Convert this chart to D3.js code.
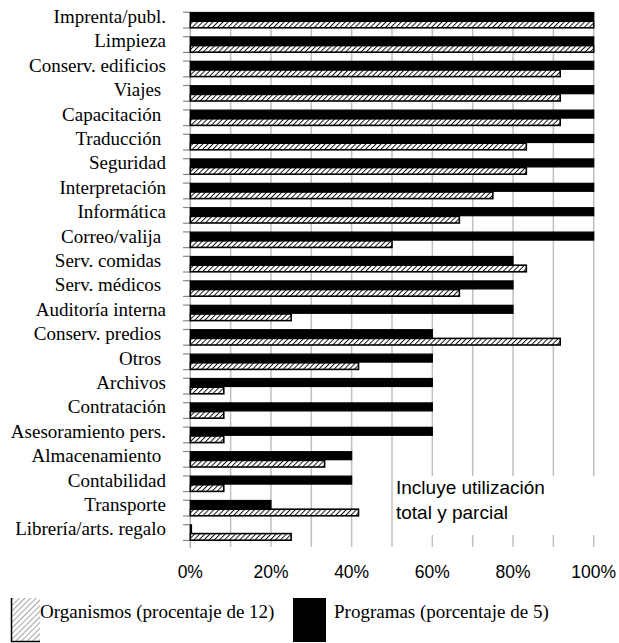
<!DOCTYPE html>
<html>
<head>
<meta charset="utf-8">
<script src="https://cdn.jsdelivr.net/npm/d3@7"></script>
<style>
html,body{margin:0;padding:0;background:#fff;}
svg{display:block;}
</style>
</head>
<body>
<svg id="chart" width="619" height="643"></svg>
<script>
const categories = ["Imprenta/publ.","Limpieza","Conserv. edificios","Viajes ","Capacitación ","Traducción ","Seguridad","Interpretación","Informática","Correo/valija ","Serv. comidas ","Serv. médicos ","Auditoría interna","Conserv. predios ","Otros ","Archivos","Contratación","Asesoramiento pers.","Almacenamiento ","Contabilidad","Transporte","Librería/arts. regalo"];
const programas = [100,100,100,100,100,100,100,100,100,100,80,80,80,60,60,60,60,60,40,40,20,0];
const organismos = [100,100,91.7,91.7,91.7,83.3,83.3,75,66.7,50,83.3,66.7,25,91.7,41.7,8.3,8.3,8.3,33.3,8.3,41.7,25];
const tickValues = [0,20,40,60,80,100];
const gridValues = [10,20,30,40,50,60,70,80,90,100];
const noteLines = ["Incluye utilización","total y parcial"];
const legendLabels = ["Organismos (procentaje de 12)","Programas (porcentaje de 5)"];

const svg = d3.select("#chart");
const serif = "Liberation Serif";
const sans = "Liberation Sans";

const defs = svg.append("defs");
const pat = defs.append("pattern").attr("id","hatch").attr("patternUnits","userSpaceOnUse")
  .attr("width",3.6).attr("height",3.6).attr("patternTransform","rotate(45)");
pat.append("rect").attr("width",3.6).attr("height",3.6).attr("fill","#fff");
pat.append("line").attr("x1",0.5).attr("y1",0).attr("x2",0.5).attr("y2",3.6).attr("stroke","#000").attr("stroke-width",0.9);
const pat2 = defs.append("pattern").attr("id","hatchL").attr("patternUnits","userSpaceOnUse")
  .attr("width",4).attr("height",4).attr("patternTransform","rotate(45)");
pat2.append("rect").attr("width",4).attr("height",4).attr("fill","#fff");
pat2.append("line").attr("x1",0.5).attr("y1",0).attr("x2",0.5).attr("y2",4).attr("stroke","#666").attr("stroke-width",0.6);

const x = d3.scaleLinear().domain([0,100]).range([190.3,593.7]);
const y = d3.scaleBand().domain(categories).range([4, 4+22*24.4]).padding(0);

const gridTop = 12, gridBottom = 547;
svg.append("g").selectAll("line").data(gridValues).join("line")
  .attr("x1",d=>x(d)).attr("x2",d=>x(d)).attr("y1",gridTop).attr("y2",gridBottom)
  .attr("stroke","#c0c0c0").attr("stroke-width",1.5);
svg.append("line").attr("x1",x(0)).attr("x2",x(0)).attr("y1",gridTop).attr("y2",gridBottom+1)
  .attr("stroke","#b0b0b0").attr("stroke-width",1.5);
const tk = svg.append("g");
categories.forEach(c=>{
  [y(c)+8.3, y(c)+24].forEach(t=>{
    tk.append("line").attr("x1",183).attr("x2",x(0)).attr("y1",t).attr("y2",t)
      .attr("stroke","#888").attr("stroke-width",1.2);
  });
});

svg.append("rect").attr("x",394).attr("y",476).attr("width",206).attr("height",59).attr("fill","#fff");
svg.append("g").selectAll("text").data(noteLines).join("text")
  .attr("x",396).attr("y",(d,i)=>493.5+i*25.5)
  .style("font-family",sans).style("font-size","19px").attr("fill","#000").text(d=>d);

svg.append("g").selectAll("rect").data(categories).join("rect")
  .attr("x",x(0)).attr("y",d=>y(d)+8.5).attr("height",8)
  .attr("width",(d,i)=>Math.max(x(programas[i])-x(0),1.2))
  .attr("fill","#000").attr("stroke","#000").attr("stroke-width",1.2);
svg.append("g").selectAll("rect").data(categories).join("rect")
  .attr("x",x(0)).attr("y",d=>y(d)+17.2).attr("height",6.6)
  .attr("width",(d,i)=>x(organismos[i])-x(0))
  .attr("fill","url(#hatch)").attr("stroke","#000").attr("stroke-width",1.6);

svg.append("g").selectAll("text").data(categories).join("text")
  .attr("x",166).attr("y",d=>y(d)+19).attr("text-anchor","end")
  .style("font-family",serif).style("font-size","19px").attr("fill","#000")
  .style("white-space","pre").text(d=>d);

svg.append("g").selectAll("text").data(tickValues).join("text")
  .attr("x",d=>x(d)).attr("y",578).attr("text-anchor","middle")
  .style("font-family",sans).style("font-size","17.5px").attr("fill","#000").text(d=>d+"%");

const lg = svg.append("g");
lg.append("rect").attr("x",11).attr("y",598).attr("width",29).attr("height",44).attr("fill","url(#hatchL)");
lg.append("path").attr("d","M11.5,598 V641.5 H40").attr("fill","none").attr("stroke","#000").attr("stroke-width",1.5);
lg.append("text").attr("x",40).attr("y",618).style("font-family",serif).style("font-size","19px").text(legendLabels[0]);
lg.append("rect").attr("x",293).attr("y",598).attr("width",33).attr("height",44).attr("fill","#000");
lg.append("text").attr("x",334).attr("y",618).style("font-family",serif).style("font-size","19px").text(legendLabels[1]);
</script>
</body>
</html>
